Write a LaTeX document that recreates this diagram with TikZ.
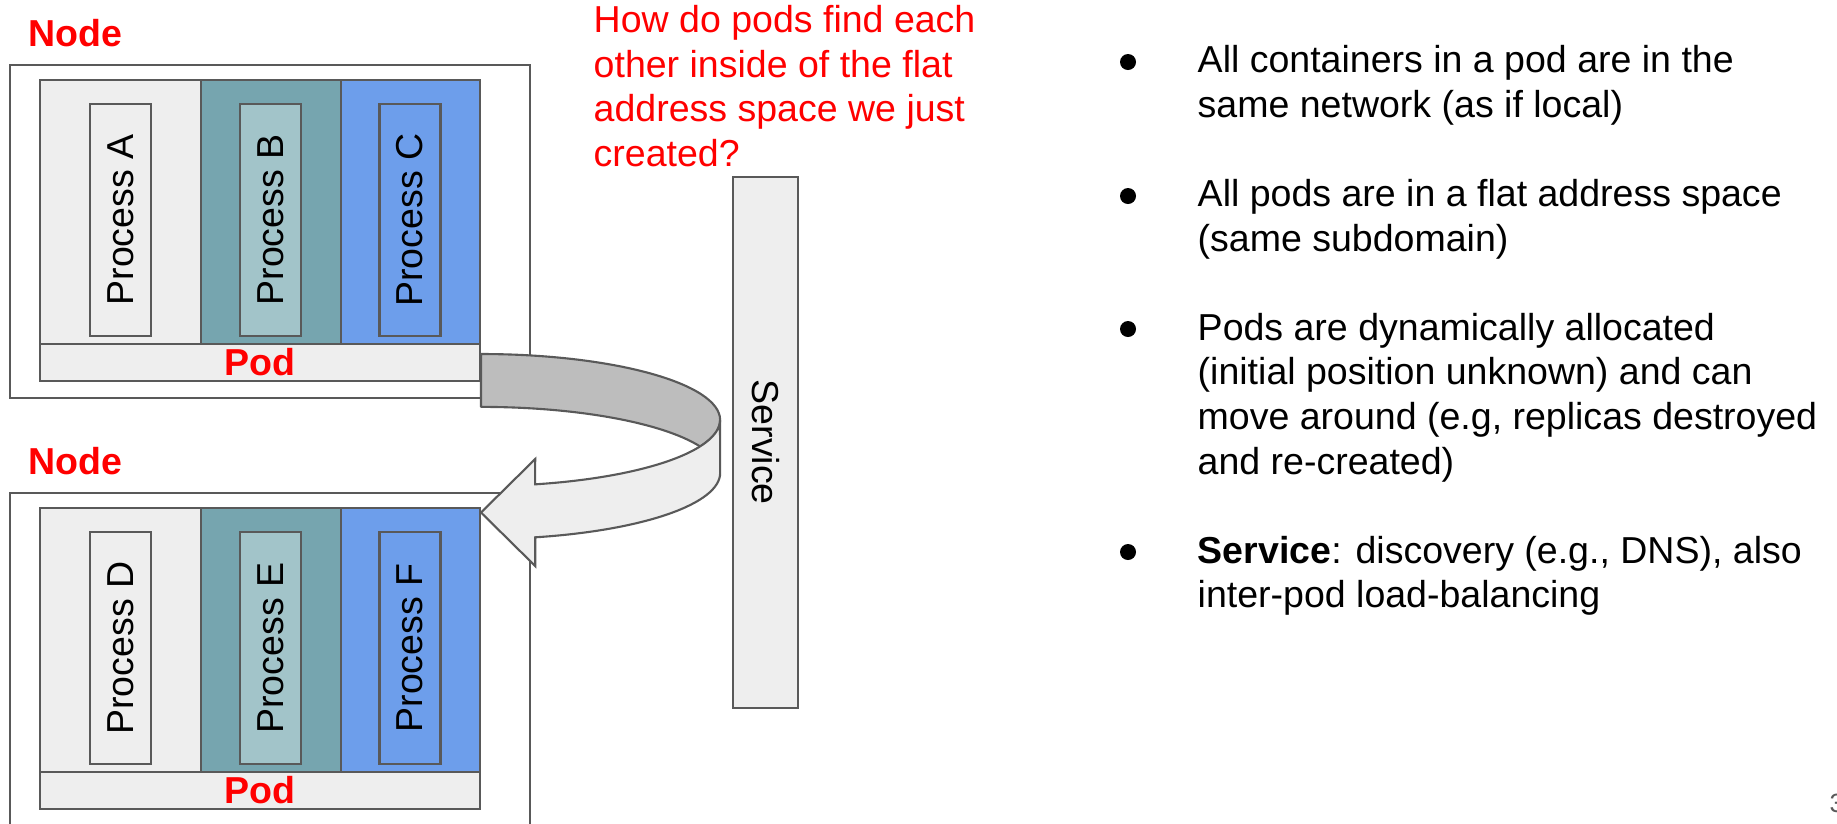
\documentclass[tikz,border=0pt]{standalone}
\usepackage{fontspec}
\setmainfont{Liberation Sans}
\definecolor{edgegray}{HTML}{595959}
\definecolor{paleback}{HTML}{EEEEEE}
\definecolor{tealcol}{HTML}{76A5AF}
\definecolor{tealproc}{HTML}{A2C4C9}
\definecolor{bluecol}{HTML}{6D9EEB}
\definecolor{backband}{HTML}{BDBDBD}
\definecolor{slidered}{HTML}{FF0000}
\newcommand{\slidesize}{\fontsize{10.67pt}{12.66pt}\selectfont}
\tikzset{
  slidebox/.style={draw=edgegray, line width=0.6pt, inner sep=0pt},
  nodebox/.style={slidebox, fill=white, minimum width=5.2cm, minimum height=3.33cm},
  podcol/.style={slidebox, minimum height=2.64cm},
  procbox/.style={slidebox, minimum width=0.61cm, minimum height=2.32cm},
  proctext/.style={rotate=90, font=\slidesize},
  podbar/.style={slidebox, fill=paleback, minimum width=4.4cm, minimum height=0.37cm,
    font=\slidesize\bfseries, text=slidered}
}
\tikzset{
  redtitle/.style={font=\slidesize\bfseries, text=slidered, anchor=base west, inner sep=0pt},
  % base of a multi-line node is its last line
  question/.style={font=\slidesize, text=slidered, align=left, anchor=base west, inner sep=0pt},
  bullettext/.style={font=\slidesize, align=left, anchor=base west, inner sep=0pt},
  dot/.style={circle, fill=black, inner sep=0pt, minimum size=0.16cm},
  pagenum/.style={font=\fontsize{7.5pt}{9pt}\selectfont, text=edgegray, anchor=base west, inner sep=0pt},
  turnarc/.style={x radius=2.39cm, y radius=0.66cm},
  turnback/.style={draw=edgegray, fill=backband, line width=0.6pt, line join=round},
  turnfront/.style={draw=edgegray, fill=paleback, line width=0.6pt, line join=miter}
}

\begin{document}
\begin{tikzpicture}[x=0.01cm, y=-0.01cm]
  \useasboundingbox (0,0) rectangle (1837,823);

  % first node
  \node[redtitle] (title1) at (28,46) {Node};
  \node[nodebox] (node1) at (270,231.5) {};
  \node[podcol, fill=paleback, minimum width=1.61cm] (colA) at (120.5,212) {};
  \node[podcol, fill=tealcol, minimum width=1.4cm] (colB) at (271,212) {};
  \node[podcol, fill=bluecol, minimum width=1.39cm] (colC) at (410.5,212) {};
  \node[procbox, fill=paleback] (procA) at (120.5,220) {};
  \node[procbox, fill=tealproc] (procB) at (270.5,220) {};
  \node[procbox, fill=bluecol] (procC) at (410,220) {};
  \node[proctext] (procAtxt) at (procA) {Process A};
  \node[proctext] (procBtxt) at (procB) {Process B};
  \node[proctext] (procCtxt) at (procC) {Process C};
  \node[podbar] (pod1) at (260,362.5) {Pod};

  % second node, runs off the bottom
  \node[redtitle] (title2) at (28,474) {Node};
  \node[nodebox] (node2) at (270,659.5) {};
  \node[podcol, fill=paleback, minimum width=1.61cm] (colD) at (120.5,640) {};
  \node[podcol, fill=tealcol, minimum width=1.4cm] (colE) at (271,640) {};
  \node[podcol, fill=bluecol, minimum width=1.39cm] (colF) at (410.5,640) {};
  \node[procbox, fill=paleback] (procD) at (120.5,648) {};
  \node[procbox, fill=tealproc] (procE) at (270.5,648) {};
  \node[procbox, fill=bluecol] (procF) at (410,648) {};
  \node[proctext] (procDtxt) at (procD) {Process D};
  \node[proctext] (procEtxt) at (procE) {Process E};
  \node[proctext] (procFtxt) at (procF) {Process F};
  \node[podbar] (pod2) at (260,790.5) {Pod};

  % u-turn from pod1 round to pod2
  \draw[turnback] (481,354) arc[turnarc, start angle=90, end angle=0]
    arc[turnarc, start angle=0, end angle=-23.6]
    arc[turnarc, start angle=23.6, end angle=90] -- cycle;
  \draw[turnfront] (720,420) arc[turnarc, start angle=0, end angle=-76.9]
    -- (535.2,459) -- (481,512.5) -- (535.2,566) -- (535.2,537.3)
    arc[turnarc, start angle=-76.9, end angle=0] -- cycle;

  \node[slidebox, fill=paleback, minimum width=0.65cm, minimum height=5.31cm] (service) at (765.5,442.3) {};
  \node[rotate=-90, font=\slidesize] (servicetxt) at (service) {Service};

  \node[question] (question) at (593,166.5) {How do pods find each\\other inside of the flat\\address space we just\\created?};

  \node[dot] (dot1) at (1128,62) {};
  \node[bullettext] (item1) at (1197,117.5) {All containers in a pod are in the\\same network (as if local)};
  \node[dot] (dot2) at (1128,196) {};
  \node[bullettext] (item2) at (1197,251.5) {All pods are in a flat address space\\(same subdomain)};
  \node[dot] (dot3) at (1128,329) {};
  \node[bullettext] (item3) at (1197,474) {Pods are dynamically allocated\\(initial position unknown) and can\\move around (e.g, replicas destroyed\\and re-created)};
  \node[dot] (dot4) at (1128,552) {};
  \node[bullettext] (item4) at (1197,607.5) {\textbf{Service}: discovery (e.g., DNS), also\\inter-pod load-balancing};

  \node[pagenum] (page) at (1829,812) {3};
\end{tikzpicture}
\end{document}
